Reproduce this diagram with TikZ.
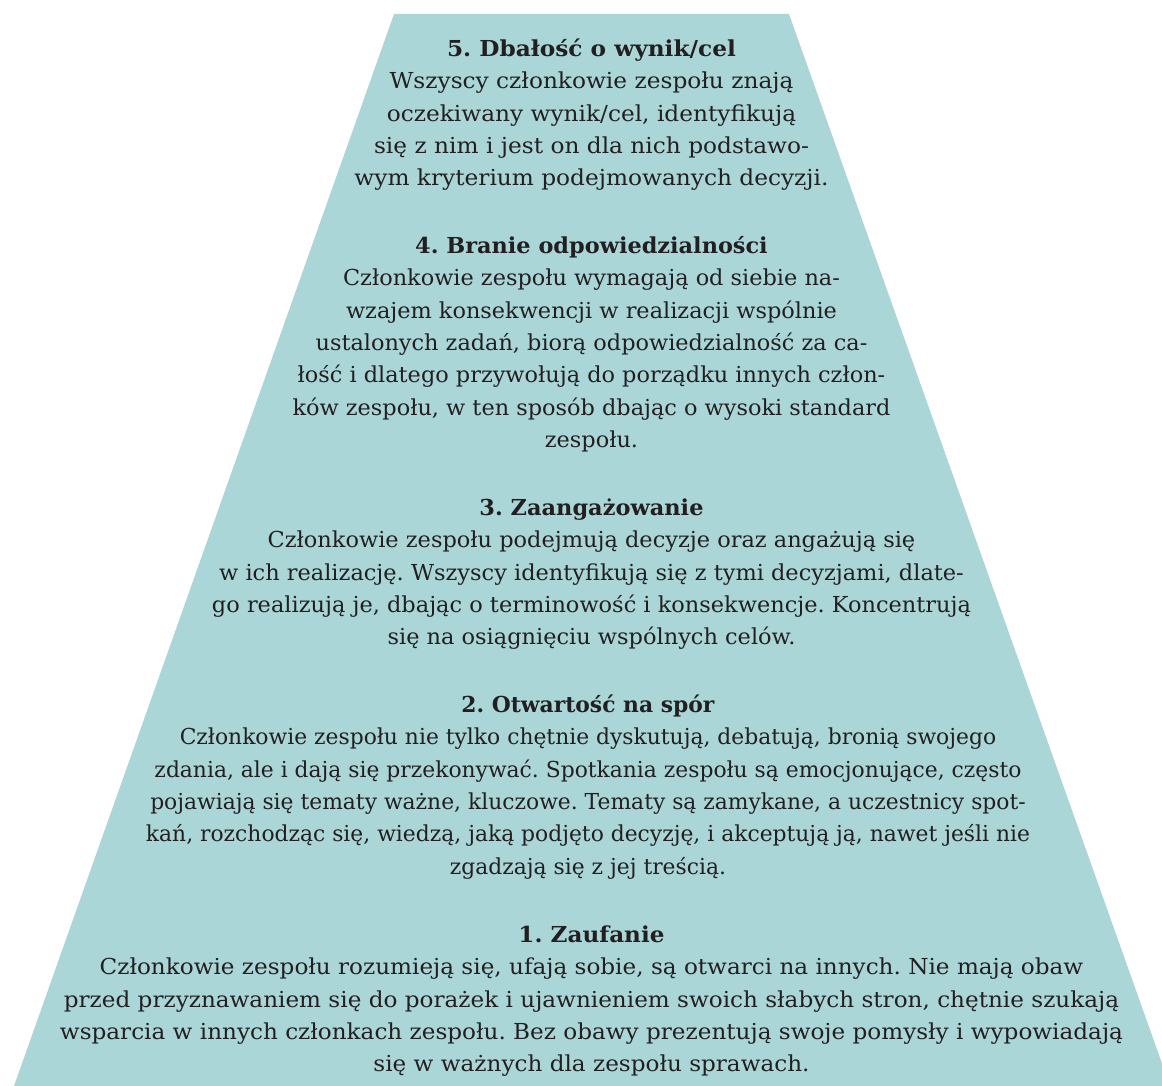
\documentclass[tikz,border=0pt]{standalone}
\usepackage{fontspec}
\setmainfont{DejaVu Serif}
\usepackage{graphicx}
\definecolor{pyr}{HTML}{AAD6D8}
\definecolor{ink}{HTML}{231F20}
\newcommand{\sectblock}[2]{\resizebox{#1pt}{\height}{\vtop{\baselineskip=32.3pt\lineskiplimit=-50pt\halign{\hfil##\hfil\cr#2\crcr}}}}
\frenchspacing
\begin{document}
\begin{tikzpicture}[x=1pt,y=-1pt,
  txt/.style={anchor=base, inner sep=0pt, text=ink, font=\fontsize{22}{32.3}\selectfont\frenchspacing}]
\useasboundingbox (0,0) rectangle (1162,1086);
\clip (0,0) rectangle (1162,1086);
\fill[pyr] (394,14) -- (789,14) -- (1170,1086) -- (14,1086) -- cycle;
\node[txt] (s5) at (591.5,56.5) {\sectblock{474}{%
\textbf{5. Dbałość o wynik/cel}\cr
Wszyscy członkowie zespołu znają\cr
oczekiwany wynik/cel, identyfikują\cr
się z nim i jest on dla nich podstawo-\cr
wym kryterium podejmowanych decyzji.}};
\node[txt] (s4) at (591.5,253.5) {\sectblock{598}{%
\textbf{4. Branie odpowiedzialności}\cr
Członkowie zespołu wymagają od siebie na-\cr
wzajem konsekwencji w realizacji wspólnie\cr
ustalonych zadań, biorą odpowiedzialność za ca-\cr
łość i dlatego przywołują do porządku innych człon-\cr
ków zespołu, w ten sposób dbając o wysoki standard\cr
zespołu.}};
\node[txt] (s3) at (591.5,515.5) {\sectblock{759}{%
\textbf{3. Zaangażowanie}\cr
Członkowie zespołu podejmują decyzje oraz angażują się\cr
w ich realizację. Wszyscy identyfikują się z tymi decyzjami, dlate-\cr
go realizują je, dbając o terminowość i konsekwencje. Koncentrują\cr
się na osiągnięciu wspólnych celów.}};
\node[txt] (s2) at (588,712.5) {\sectblock{884}{%
\textbf{2. Otwartość na spór}\cr
Członkowie zespołu nie tylko chętnie dyskutują, debatują, bronią swojego\cr
zdania, ale i dają się przekonywać. Spotkania zespołu są emocjonujące, często\cr
pojawiają się tematy ważne, kluczowe. Tematy są zamykane, a uczestnicy spot-\cr
kań, rozchodząc się, wiedzą, jaką podjęto decyzję, i akceptują ją, nawet jeśli nie\cr
zgadzają się z jej treścią.}};
\node[txt] (s1) at (591.5,942.5) {\sectblock{1063}{%
\textbf{1. Zaufanie}\cr
Członkowie zespołu rozumieją się, ufają sobie, są otwarci na innych. Nie mają obaw\cr
przed przyznawaniem się do porażek i ujawnieniem swoich słabych stron, chętnie szukają\cr
wsparcia w innych członkach zespołu. Bez obawy prezentują swoje pomysły i wypowiadają\cr
się w ważnych dla zespołu sprawach.}};
\end{tikzpicture}
\end{document}
